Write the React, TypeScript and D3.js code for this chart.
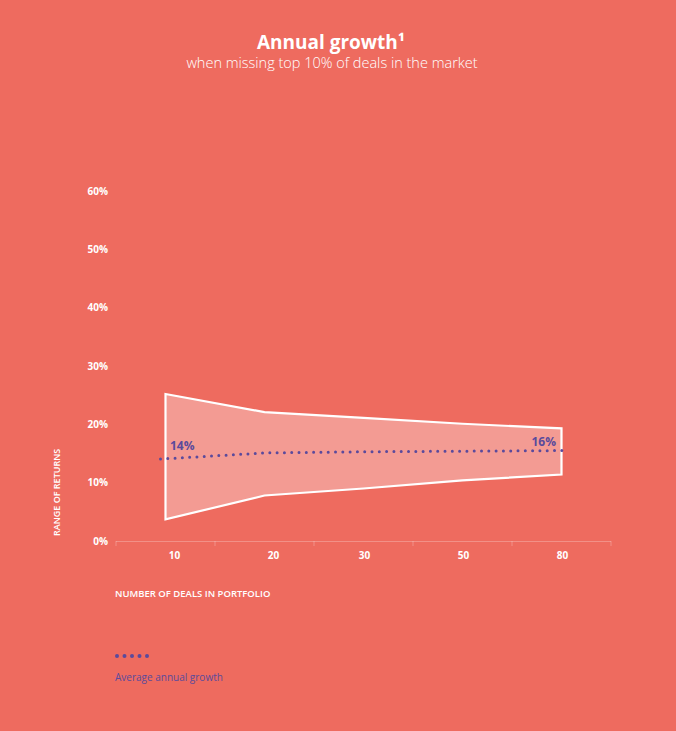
import React from "react";
import * as d3 from "d3";

// deals in portfolio (x categories)
const deals = ["10", "20", "30", "50", "80"];
// range of returns, %
const upper = [25.2, 22.1, 21.1, 20.1, 19.3];
const lower = [3.7, 7.8, 9.0, 10.4, 11.4];
// average annual growth, %
const average = [14.1, 15.1, 15.3, 15.4, 15.5];
const yTicks = [0, 10, 20, 30, 40, 50, 60];

const BG = "#EE6B5F";
const FILL = "#F39B93";
const PURPLE = "#5A4A9C";
const FONT = "'Open Sans', sans-serif";

export default function App() {
  const width = 676;
  const height = 731;

  const x = d3.scaleBand().domain(deals).range([116, 611]);
  const cx = (d: string) => (x(d) as number) + x.bandwidth() / 2;
  const y = d3.scaleLinear().domain([0, 60]).range([541, 191]);

  const area = d3
    .area<number>()
    .x((_, i) => cx(deals[i]))
    .y0((_, i) => y(lower[i]))
    .y1((d) => y(d));
  const poly = area(upper) + "";

  const avgLine = d3
    .line<number>()
    .x((_, i) => cx(deals[i]))
    .y((d) => y(d));

  const first = average[0];
  const last = average[average.length - 1];

  return (
    <svg
      width={width}
      height={height}
      style={{ position: "absolute", left: 0, top: 0, background: BG }}
      fontFamily={FONT}
    >
      <rect width={width} height={height} fill={BG} />
      <text x={331} y={49} textAnchor="middle" fill="#fff" fontSize={19} fontWeight={700}>
        Annual growth¹
      </text>
      <text x={332} y={68} textAnchor="middle" fill="#fff" fontSize={14.5} fontWeight={300}>
        when missing top 10% of deals in the market
      </text>

      {/* y ticks */}
      {yTicks.map((t) => (
        <text key={t} x={108} y={y(t) + 3.5} textAnchor="end" fill="#fff" fontSize={10} fontWeight={700}>
          {t}%
        </text>
      ))}
      <text
        transform={`translate(60,536) rotate(-90)`}
        textAnchor="start"
        fill="#fff"
        fontSize={9}
        fontWeight={600}
      >
        RANGE OF RETURNS
      </text>

      {/* x axis */}
      <line x1={116} x2={611} y1={541.5} y2={541.5} stroke="#fff" strokeOpacity={0.25} />
      {[...deals.map((d) => x(d) as number), 611].map((v, i) => (
        <line key={i} x1={v} x2={v} y1={541} y2={546} stroke="#fff" strokeOpacity={0.25} />
      ))}
      {deals.map((d, i) => (
        <text
          key={d}
          x={cx(d) + (i < 2 ? 9 : 1)}
          y={559}
          textAnchor="middle"
          fill="#fff"
          fontSize={10}
          fontWeight={700}
        >
          {d}
        </text>
      ))}
      <text x={115} y={597} fill="#fff" fontSize={9.5} fontWeight={600}>
        NUMBER OF DEALS IN PORTFOLIO
      </text>

      {/* range polygon */}
      <path d={poly + "Z"} fill={FILL} stroke="#fff" strokeWidth={2.2} strokeLinejoin="miter" />

      {/* average dotted line */}
      <path
        d={
          `M${cx(deals[0]) - 5},${y(first) + 0.3}L` +
          avgLine(average)!.slice(1) +
          `L${cx(deals[deals.length - 1]) + 4},${y(last)}`
        }
        fill="none"
        stroke={PURPLE}
        strokeWidth={3}
        strokeLinecap="round"
        strokeDasharray="0 7.3"
      />
      <text x={170} y={450} fill={PURPLE} fontSize={12} fontWeight={700}>
        {Math.round(first)}%
      </text>
      <text x={556} y={446} textAnchor="end" fill={PURPLE} fontSize={12} fontWeight={700}>
        {Math.round(last + 0.5)}%
      </text>

      {/* legend */}
      <line
        x1={117}
        x2={148}
        y1={656}
        y2={656}
        stroke={PURPLE}
        strokeWidth={4}
        strokeLinecap="round"
        strokeDasharray="0 7.5"
      />
      <text x={115} y={681} fill={PURPLE} fontSize={10} fontWeight={400}>
        Average annual growth
      </text>
    </svg>
  );
}
